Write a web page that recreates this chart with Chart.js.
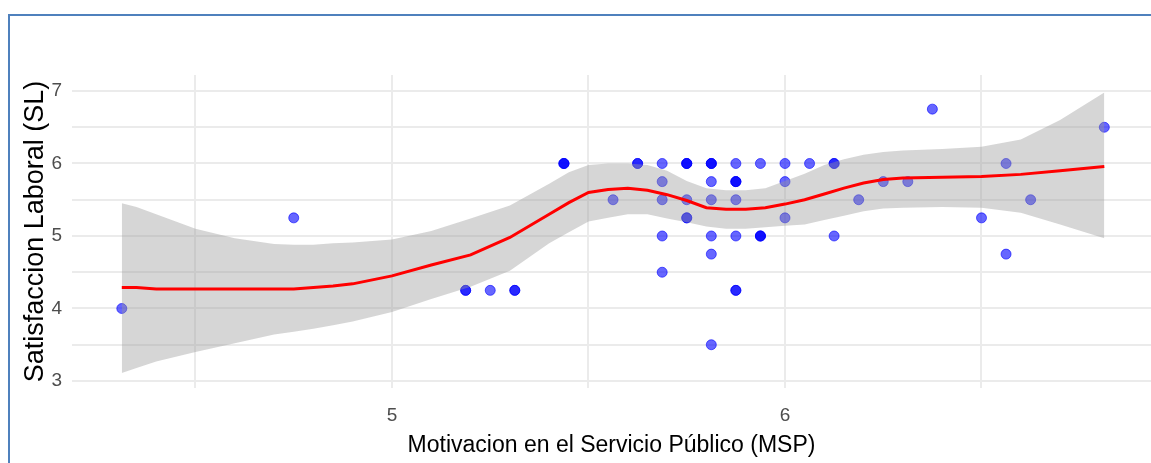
<!DOCTYPE html>
<html><head><meta charset="utf-8">
<script src="https://cdn.jsdelivr.net/npm/chart.js@4/dist/chart.umd.min.js"></script>
<style>html,body{margin:0;padding:0;background:#fff;overflow:hidden}#wrap{position:relative;width:1151px;height:463px}</style>
</head><body><div id="wrap"><canvas id="c" width="1151" height="463"></canvas></div>
<script>
// Observed points (MSP, SL); repeated pairs = overlapping observations
const msp = [4.3125, 4.75, 5.1875, 5.1875, 5.25, 5.3125, 5.3125, 5.4375, 5.4375, 5.4375,
  5.5625, 5.625, 5.625, 5.6875, 5.6875, 5.6875, 5.6875, 5.6875,
  5.75, 5.75, 5.75, 5.75, 5.75, 5.75,
  5.8125, 5.8125, 5.8125, 5.8125, 5.8125, 5.8125, 5.8125, 5.8125,
  5.875, 5.875, 5.875, 5.875, 5.875, 5.875, 5.875, 5.875,
  5.9375, 5.9375, 5.9375, 5.9375,
  6.0, 6.0, 6.0, 6.0625, 6.125, 6.125, 6.125, 6.1875, 6.25, 6.3125, 6.375,
  6.5, 6.5625, 6.5625, 6.625, 6.8125];
const sl = [4.0, 5.25, 4.25, 4.25, 4.25, 4.25, 4.25, 6.0, 6.0, 6.0,
  5.5, 6.0, 6.0, 6.0, 5.75, 5.5, 5.0, 4.5,
  6.0, 6.0, 6.0, 5.5, 5.25, 5.25,
  6.0, 6.0, 6.0, 5.75, 5.5, 5.0, 4.75, 3.5,
  6.0, 5.75, 5.75, 5.75, 5.5, 5.0, 4.25, 4.25,
  6.0, 5.0, 5.0, 5.0,
  6.0, 5.75, 5.25, 6.0, 6.0, 6.0, 5.0, 5.5, 5.75, 5.75, 6.75,
  5.25, 6.0, 4.75, 5.5, 6.5];

// LOESS smooth
const smoothX = [4.3125, 4.35, 4.4, 4.5, 4.6, 4.7, 4.75, 4.8, 4.85, 4.9, 5.0, 5.1, 5.2, 5.3, 5.4, 5.45, 5.5, 5.55, 5.6, 5.65, 5.7, 5.75, 5.8, 5.85, 5.9, 5.95, 6.0, 6.05, 6.1, 6.15, 6.2, 6.25, 6.3, 6.4, 6.5, 6.6, 6.7, 6.8125];
const smoothFit = [4.29, 4.29, 4.27, 4.27, 4.27, 4.27, 4.27, 4.29, 4.31, 4.34, 4.45, 4.6, 4.74, 4.98, 5.3, 5.46, 5.6, 5.64, 5.66, 5.63, 5.57, 5.49, 5.39, 5.37, 5.37, 5.39, 5.44, 5.5, 5.58, 5.66, 5.73, 5.78, 5.8, 5.81, 5.82, 5.85, 5.9, 5.96];
const smoothUpper = [5.45, 5.4, 5.3, 5.1, 4.97, 4.89, 4.88, 4.88, 4.9, 4.91, 4.95, 5.07, 5.24, 5.42, 5.72, 5.88, 5.98, 6.0, 6.0, 5.98, 5.9, 5.76, 5.66, 5.63, 5.63, 5.66, 5.76, 5.86, 5.98, 6.06, 6.12, 6.16, 6.18, 6.2, 6.23, 6.33, 6.6, 6.98];
const smoothLower = [3.11, 3.18, 3.27, 3.4, 3.52, 3.64, 3.68, 3.72, 3.77, 3.82, 3.95, 4.13, 4.3, 4.52, 4.9, 5.05, 5.2, 5.25, 5.3, 5.3, 5.24, 5.19, 5.13, 5.1, 5.1, 5.12, 5.14, 5.16, 5.22, 5.28, 5.34, 5.38, 5.39, 5.4, 5.39, 5.32, 5.16, 4.97];

const xTicks = [4.5, 5, 5.5, 6, 6.5];
const yTicks = [3, 3.5, 4, 4.5, 5, 5.5, 6, 6.5, 7];
const xTitle = 'Motivacion en el Servicio Público (MSP)';
const yTitle = 'Satisfaccion Laboral (SL)';

const pts = msp.map((x, i) => ({x: x, y: sl[i]}));
const mk = arr => smoothX.map((x, i) => ({x: x, y: arr[i]}));

const frame = {
  id: 'frame',
  afterDraw(chart) {
    const ctx = chart.ctx;
    ctx.save();
    ctx.strokeStyle = '#4f81bd';
    ctx.lineWidth = 2;
    ctx.beginPath();
    ctx.moveTo(9, 463);
    ctx.lineTo(9, 15);
    ctx.lineTo(1151, 15);
    ctx.stroke();
    ctx.restore();
  }
};

new Chart(document.getElementById('c'), {
  type: 'scatter',
  data: {
    datasets: [
      {data: pts, order: 4, pointRadius: 5, pointHoverRadius: 5,
       backgroundColor: 'rgba(0,0,255,0.6)', borderColor: 'rgba(0,0,255,0.6)', borderWidth: 1},
      {type: 'line', data: mk(smoothLower), order: 3, showLine: true, pointRadius: 0,
       borderWidth: 0, borderColor: 'rgba(0,0,0,0)', fill: false},
      {type: 'line', data: mk(smoothUpper), order: 2, showLine: true, pointRadius: 0,
       borderWidth: 0, borderColor: 'rgba(0,0,0,0)', fill: '-1', backgroundColor: 'rgba(153,153,153,0.4)'},
      {type: 'line', data: mk(smoothFit), order: 1, showLine: true, pointRadius: 0,
       borderWidth: 3, borderColor: '#ff0000', fill: false, tension: 0}
    ]
  },
  options: {
    responsive: false,
    animation: false,
    events: [],
    layout: {autoPadding: false, padding: {left: 0, right: 0, top: 75, bottom: 0}},
    plugins: {legend: {display: false}, tooltip: {enabled: false}},
    scales: {
      x: {
        type: 'linear', min: 4.1858, max: 6.9313,
        afterBuildTicks: s => { s.ticks = xTicks.map(v => ({value: v})); },
        afterFit: s => { s.height = 75; },
        ticks: {autoSkip: false, maxRotation: 0, padding: 16, color: '#4d4d4d',
          font: {family: 'Liberation Sans', size: 19},
          callback: v => (Number.isInteger(v) ? String(v) : '')},
        grid: {color: '#ebebeb', lineWidth: 2, drawTicks: false},
        border: {display: false},
        title: {display: true, text: xTitle, color: '#000',
          font: {family: 'Liberation Sans', size: 23}, padding: {top: 0, bottom: 4}}
      },
      y: {
        type: 'linear', min: 2.9034, max: 7.2207,
        afterBuildTicks: s => { s.ticks = yTicks.map(v => ({value: v})); },
        afterFit: s => { s.width = 72; },
        ticks: {autoSkip: false, padding: 10, color: '#4d4d4d',
          font: {family: 'Liberation Sans', size: 19},
          callback: v => (Number.isInteger(v) ? String(v) : '')},
        grid: {color: '#ebebeb', lineWidth: 2, drawTicks: false},
        border: {display: false},
        title: {display: true, text: yTitle, color: '#000',
          font: {family: 'Liberation Sans', size: 27}, padding: {top: 19, bottom: 0}}
      }
    }
  },
  plugins: [frame]
});
</script></body></html>
